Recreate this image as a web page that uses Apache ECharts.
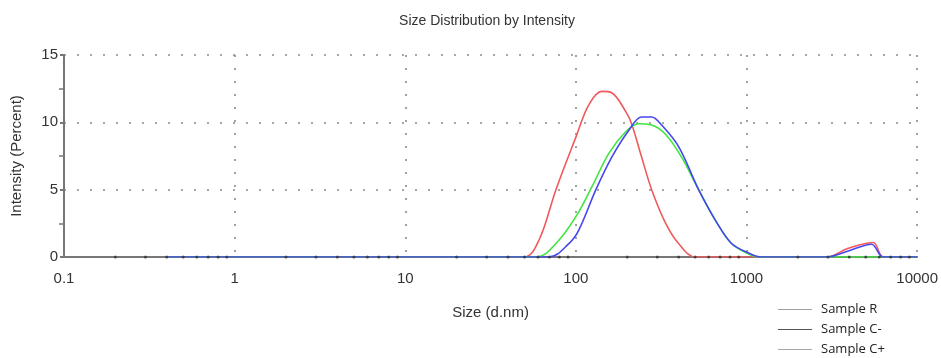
<!DOCTYPE html>
<html>
<head>
<meta charset="utf-8">
<script src="https://cdn.jsdelivr.net/npm/echarts@6/dist/echarts.min.js"></script>
<style>
html, body { margin: 0; padding: 0; background: #fff; }
#chart { width: 941px; height: 358px; }
</style>
</head>
<body>
<div id="chart"></div>
<script>
// size (d.nm) / intensity (%)
const sizesR = [0.4, 49.7, 60.8, 76.4, 100, 119, 142, 162, 196, 212, 243, 278, 336, 400, 503, 2938, 3945, 5530, 6324, 10000]
const valuesR = [0, 0, 1.26, 5.0, 8.9, 11.3, 12.3, 12.2, 10.8, 9.9, 7.4, 5.0, 2.5, 1.0, 0, 0, 0.65, 1.08, 0, 0]

const sizesCminus = [0.4, 69.5, 91, 104, 131, 162, 204, 243, 278, 318, 400, 524, 659, 817, 1028, 1224, 2938, 3945, 5400, 6324, 10000]
const valuesCminus = [0, 0, 1.0, 2.0, 5.0, 7.4, 9.4, 10.4, 10.4, 9.8, 8.2, 5.0, 2.7, 1.0, 0.3, 0, 0, 0.45, 0.95, 0, 0]

const sizesCplus = [0.4, 59.1, 76.4, 100, 124, 156, 196, 233, 278, 336, 417, 524, 659, 817, 1000, 1175, 10000]
const valuesCplus = [0, 0, 1.0, 3.0, 5.2, 7.7, 9.3, 9.9, 9.8, 9.1, 7.4, 5.0, 2.7, 1.0, 0.3, 0, 0]

const seriesNames = ['Sample R', 'Sample C-', 'Sample C+']
// minor tick marks along the size axis (2..9 in each decade)
const minorTickSizes = []
;[0.1, 1, 10, 100, 1000].forEach(function (d) {
  for (let k = 2; k <= 9; k++) minorTickSizes.push(+(d * k).toPrecision(3))
})

function pairs(xs, ys) {
  return xs.map(function (x, i) { return [x, ys[i]] })
}

const font = 'Liberation Sans, Arial, sans-serif'
const dotted = { color: '#8a8a8a', width: 1.6, type: [2, 11] }

let chart = echarts.init(document.getElementById('chart'))
const option = {
  animation: false,
  title: {
    text: 'Size Distribution by Intensity',
    left: 482,
    textAlign: 'center',
    top: 9,
    textStyle: { fontFamily: font, fontSize: 14, fontWeight: 'normal', color: '#333' }
  },
  legend: {
    orient: 'vertical',
    left: 778,
    top: 303,
    padding: 0,
    icon: 'rect',
    itemWidth: 34,
    itemHeight: 1,
    itemGap: 7,
    textStyle: { fontFamily: 'Open Sans, sans-serif', fontSize: 13, color: '#222', padding: [0, 0, 0, 4] },
    data: [
      { name: seriesNames[0], itemStyle: { color: '#a0a0a0' } },
      { name: seriesNames[1], itemStyle: { color: '#555' } },
      { name: seriesNames[2], itemStyle: { color: '#a8a8a8' } }
    ]
  },
  grid: { left: 64, right: 22, top: 55, bottom: 101 },
  xAxis: {
    type: 'log',
    logBase: 10,
    min: 0.1,
    max: 10000,
    name: 'Size (d.nm)',
    nameLocation: 'middle',
    nameGap: 48,
    nameTextStyle: { fontFamily: font, fontSize: 15, color: '#333' },
    axisLine: { lineStyle: { color: '#777', width: 2 } },
    axisTick: { show: false },
    axisLabel: {
      fontFamily: font, fontSize: 15, color: '#333', margin: 14,
      formatter: function (v) { return v < 1 ? v.toFixed(1) : String(Math.round(v)) }
    },
    splitLine: { show: true, lineStyle: dotted }
  },
  yAxis: {
    type: 'value',
    min: 0,
    max: 15,
    interval: 5,
    name: 'Intensity (Percent)',
    nameLocation: 'middle',
    nameGap: 40,
    nameTextStyle: { fontFamily: font, fontSize: 15, color: '#333' },
    axisLine: { show: true, lineStyle: { color: '#777', width: 2 } },
    axisTick: { show: true, length: 4, lineStyle: { color: '#777', width: 2 } },
    minorTick: { show: true, splitNumber: 2, length: 5, lineStyle: { color: '#777', width: 1.5 } },
    axisLabel: { fontFamily: font, fontSize: 15, color: '#333', margin: 6 },
    splitLine: { show: true, lineStyle: dotted }
  },
  series: [
    {
      name: seriesNames[0], type: 'line', data: pairs(sizesR, valuesR),
      symbol: 'none', smooth: 0.35, z: 3,
      lineStyle: { color: '#f05a5a', width: 1.6 }, itemStyle: { color: '#f05a5a' }
    },
    {
      name: seriesNames[2], type: 'line', data: pairs(sizesCplus, valuesCplus),
      symbol: 'none', smooth: 0.35, z: 4,
      lineStyle: { color: '#3ee63e', width: 1.6 }, itemStyle: { color: '#3ee63e' }
    },
    {
      name: seriesNames[1], type: 'line', data: pairs(sizesCminus, valuesCminus),
      symbol: 'none', smooth: 0.35, z: 5,
      lineStyle: { color: '#4646f0', width: 1.6 }, itemStyle: { color: '#4646f0' }
    },
    {
      name: 'ticks', type: 'scatter', silent: true, z: 6,
      data: minorTickSizes.map(function (s) { return [s, 0] }),
      symbolSize: 3, itemStyle: { color: '#333' }
    }
  ]
}
chart.setOption(option)
</script>
</body>
</html>
